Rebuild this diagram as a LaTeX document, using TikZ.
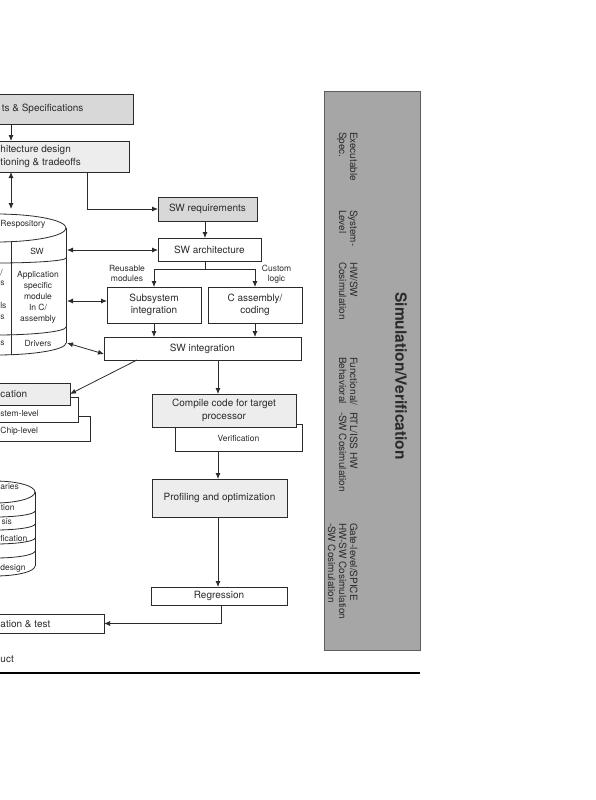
\documentclass[tikz,border=0pt]{standalone}
\usepackage{fontspec}
\setmainfont{TeX Gyre Heros}
\usetikzlibrary{arrows.meta,calc}
\definecolor{ink}{HTML}{2B2B2B}
\definecolor{darkfill}{HTML}{D8D8D8}
\definecolor{lightfill}{HTML}{EDEDED}
\definecolor{panelfill}{HTML}{A6A6A6}
\definecolor{panelline}{HTML}{5E5E5E}
\newcommand{\mainsz}{\fontsize{10}{12.5}\selectfont}
\newcommand{\smallsz}{\fontsize{8.5}{10.5}\selectfont}
\begin{document}
\begin{tikzpicture}[x=1pt,y=-1pt,
  every node/.style={inner sep=0pt, outer sep=0pt, text=ink, font=\mainsz},
  box/.style={draw=ink, line width=0.8pt, fill=white, align=center},
  sm/.style={font=\smallsz},
  frag/.style={anchor=west},
  line/.style={draw=ink, line width=0.8pt},
  arr/.style={line, -{Latex[length=6pt,width=5pt]}},
  dbl/.style={line, {Latex[length=6pt,width=5pt]}-{Latex[length=6pt,width=5pt]}},
  lab/.style={rotate=-90, anchor=north west, align=left, font=\fontsize{10}{11}\selectfont},
]
\useasboundingbox (0,0) rectangle (595,800);
\fill[white] (0,0) rectangle (595,800);
\clip (0,0) rectangle (595,800);

% ---------- left clipped boxes ----------
\node[box, fill=darkfill, minimum width=137, minimum height=30] (spec) at (64.5,109) {};
\node[anchor=east] (specT) at (83.5,109) {ts \& Specifications};
\node[box, fill=lightfill, minimum width=133, minimum height=31] (arch) at (62.5,156.5) {};
\node[frag] (archT1) at (0.5,150) {hitecture design};
\node[frag] (archT2) at (0.5,163) {tioning \& tradeoffs};

% ---------- upper cylinder ----------
\draw[line] (-4,228) ellipse [x radius=70pt, y radius=14pt];
\draw[line] (66,228) -- (66,343);
\draw[line] (66,258) arc[start angle=0, end angle=-180, x radius=70pt, y radius=5pt];
\draw[line] (66,327) arc[start angle=0, end angle=-180, x radius=70pt, y radius=8pt];
\draw[line] (66,343) arc[start angle=0, end angle=-180, x radius=70pt, y radius=12pt];
\draw[line] (11,241.7) -- (11,354.7);
\node[sm, frag] (repoT) at (0.5,224) {Respository};
\node[sm] (cylSW) at (37,251) {SW};
\node[sm, align=center, font=\fontsize{8.5}{11}\selectfont] (cylApp) at (38,297) {Application\\specific\\module\\In C/\\assembly};
\node[sm] (cylDrv) at (38,343) {Drivers};
\node[sm, frag] (cylL1) at (0.5,272) {/};
\node[sm, frag] (cylL2) at (0.3,283) {s};
\node[sm, frag] (cylL3) at (0.3,305) {ls};
\node[sm, frag] (cylL4) at (0.3,317) {s};
\node[sm, frag] (cylL5) at (0.3,343) {s};
\coordinate (cylTop) at (11,209);
\coordinate (cylA) at (67,250);
\coordinate (cylB) at (67,301);
\coordinate (cylC) at (67,343);

% ---------- lower cylinder ----------
\draw[line] (-5,492) ellipse [x radius=40pt, y radius=11pt];
\draw[line] (35,492) -- (35,566);
\draw[line] (35,511) arc[start angle=0, end angle=-180, x radius=40pt, y radius=6pt];
\draw[line] (35,524) arc[start angle=0, end angle=-180, x radius=40pt, y radius=6pt];
\draw[line] (35,538) arc[start angle=0, end angle=-180, x radius=40pt, y radius=6pt];
\draw[line] (35,551) arc[start angle=0, end angle=-180, x radius=40pt, y radius=7pt];
\draw[line] (35,566) arc[start angle=0, end angle=-180, x radius=40pt, y radius=10pt];
\node[sm, frag] (libA) at (0.5,487) {aries};
\node[sm, frag] (libB) at (0.8,508) {tion};
\node[sm, frag] (libC) at (1.6,522) {sis};
\node[sm, frag] (libD) at (0.5,538) {fication};
\node[sm, frag] (libE) at (0.5,568) {design};

% ---------- SW flow ----------
\node[box, fill=darkfill, minimum width=99, minimum height=24] (swreq) at (207.5,209) {SW requirements};
\node[box, minimum width=103, minimum height=23] (swarch) at (209.5,249.5) {SW architecture};
\node[box, minimum width=94, minimum height=36] (subsys) at (154,305) {Subsystem\\integration};
\node[box, minimum width=94, minimum height=36] (casm) at (255,305) {C assembly/\\coding};
\node[box, minimum width=197, minimum height=23] (swint) at (202.5,348.5) {SW integration};
\node[sm, align=center, font=\fontsize{8.5}{10}\selectfont] (reuse) at (127,273.5) {Reusable\\modules};
\node[sm, align=center, font=\fontsize{8.5}{10.5}\selectfont] (custom) at (276.5,274) {Custom\\logic};

% implementation stack (left, clipped)
\node[box, minimum width=94, minimum height=25] (impl3) at (43,428.5) {};
\node[box, minimum width=82, minimum height=25] (impl2) at (37,409.5) {};
\node[box, fill=lightfill, minimum width=74, minimum height=22] (impl1) at (33,394) {};
\node[frag] (impl1T) at (0.5,394) {cation};
\node[sm, frag] (impl2T) at (0.5,413) {stem-level};
\node[sm, frag] (impl3T) at (0.5,431) {Chip-level};

% compile / verification
\node[box, minimum width=127, minimum height=27] (verif) at (238.5,437.5) {};
\node[sm] (verifT) at (238.5,438) {Verification};
\node[box, fill=lightfill, minimum width=144, minimum height=33] (compile) at (224,410.5) {Compile code for target\\processor};
\node[box, fill=lightfill, minimum width=135, minimum height=38] (profiling) at (219.5,498) {Profiling and optimization};
\node[box, minimum width=136, minimum height=18] (regression) at (219,596) {Regression};
\node[box, minimum width=108, minimum height=19] (test) at (50,623.5) {};
\node[frag] (testT) at (0.5,624) {ation \& test};
\node[frag] (prodT) at (0.5,659) {uct};

% ---------- connectors ----------
\coordinate (tA) at (205,0);
\coordinate (tB) at (218,0);
\coordinate (tC) at (221,0);
\coordinate (split) at (205,269);
\draw[arr] (spec.south -| cylTop) -- (arch.north -| cylTop);
\draw[dbl] (arch.south -| cylTop) -- (cylTop);
\draw[arr] ($(arch.south west)+(91,0)$) |- (swreq.west);
\draw[arr] (swreq.south -| tA) -- (swarch.north -| tA);
\draw[dbl] (cylA) -- (swarch.west |- cylA);
\draw[line] (swarch.south -| tA) -- (split);
\draw[line] (subsys.north |- split) -- (casm.north |- split);
\draw[arr] (subsys.north |- split) -- (subsys.north);
\draw[arr] (casm.north |- split) -- (casm.north);
\draw[dbl] (cylB) -- (subsys.west |- cylB);
\draw[arr] (subsys.south) -- (subsys.south |- swint.north);
\draw[arr] (casm.south) -- (casm.south |- swint.north);
\draw[dbl] (cylC) -- ($(swint.west)+(0,5.5)$);
\draw[arr] ($(swint.south west)+(33,0)$) -- (impl1.east);
\draw[arr] (swint.south -| tB) -- (compile.north -| tB);
\draw[arr] (verif.south -| tB) -- (profiling.north -| tB);
\draw[arr] (profiling.south -| tB) -- (regression.north -| tB);
\draw[arr] (regression.south -| tC) |- (test.east);

% ---------- right panel ----------
\node[draw=panelline, line width=0.8pt, fill=panelfill, minimum width=96, minimum height=559] (panel) at (372,370.5) {};
\node[rotate=-90, font=\bfseries\fontsize{15.5}{17}\selectfont] (title) at (401,376) {Simulation/Verification};
\node[lab] (c1) at (357.5,132) {Executable\\Spec.};
\node[lab] (c2) at (357.5,210) {System-\\Level};
\node[lab] (c3) at (357.5,262) {HW/SW\\Cosimulation};
\node[lab] (c4) at (357.5,357) {Functional/\\Behavioral};
\node[lab] (c5) at (357.5,412) {RTL/ISS HW\\-SW Cosimulation};
\node[lab] (c6) at (357.5,523) {Gate-level/SPICE\\HW-SW Cosimulation\\-SW Cosimulation};

\draw[draw=black, line width=1.4pt] (0,673) -- (panel.east |- 0,673);
\end{tikzpicture}
\end{document}
